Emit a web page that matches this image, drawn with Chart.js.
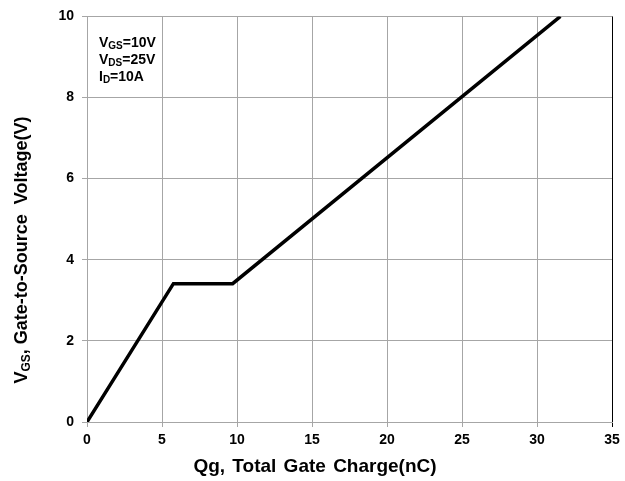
<!DOCTYPE html>
<html>
<head>
<meta charset="utf-8">
<script src="https://cdn.jsdelivr.net/npm/chart.js@4"></script>
<style>
html,body{margin:0;padding:0;background:#fff;}
canvas{display:block;}
</style>
</head>
<body>
<canvas id="c" width="625" height="481"></canvas>
<script>
// Data
const gateCharge = [0, 5.76, 9.71, 31.56];   // Qg (nC)
const gateVoltage = [0, 3.41, 3.41, 10];     // VGS (V)
const xTicks = [0, 5, 10, 15, 20, 25, 30, 35];
const yTicks = [0, 2, 4, 6, 8, 10];
const conditions = [
  {main: 'V', sub: 'GS', rest: '=10V'},
  {main: 'V', sub: 'DS', rest: '=25V'},
  {main: 'I', sub: 'D', rest: '=10A'}
];
const xTitle = 'Qg, Total Gate Charge(nC)';
const yTitleParts = [{t: 'V', s: false}, {t: 'GS', s: true}, {t: ', Gate-to-Source  Voltage(V)', s: false}];

const FONT = '"Liberation Sans", Arial, sans-serif';

const textPlugin = {
  id: 'texts',
  afterDraw(chart) {
    const ctx = chart.ctx;
    ctx.save();
    ctx.fillStyle = '#000';
    ctx.textBaseline = 'alphabetic';
    // conditions box
    let y0 = 47;
    conditions.forEach((c, i) => {
      let x = 99;
      const y = y0 + i * 17;
      ctx.font = 'bold 14px ' + FONT;
      ctx.fillText(c.main, x, y);
      x += ctx.measureText(c.main).width;
      ctx.font = 'bold 10px ' + FONT;
      ctx.fillText(c.sub, x, y + 2);
      x += ctx.measureText(c.sub).width;
      ctx.font = 'bold 14px ' + FONT;
      ctx.fillText(c.rest, x, y);
    });
    // x title
    ctx.font = 'bold 19px ' + FONT;
    ctx.textAlign = 'center';
    try { ctx.wordSpacing = '2px'; } catch (e) {}
    ctx.fillText(xTitle, 315, 472);
    try { ctx.wordSpacing = '0px'; } catch (e) {}
    // y title (rotated, with subscript)
    ctx.textAlign = 'left';
    const fMain = 'bold 18px ' + FONT, fSub = 'bold 12px ' + FONT;
    let total = 0;
    yTitleParts.forEach(p => { ctx.font = p.s ? fSub : fMain; total += ctx.measureText(p.t).width; });
    ctx.translate(27, 250);
    ctx.rotate(-Math.PI / 2);
    let x = -total / 2;
    yTitleParts.forEach(p => {
      ctx.font = p.s ? fSub : fMain;
      ctx.fillText(p.t, x, p.s ? 3 : 0);
      x += ctx.measureText(p.t).width;
    });
    ctx.restore();
  }
};

new Chart(document.getElementById('c'), {
  type: 'scatter',
  data: {
    datasets: [{
      data: gateCharge.map((q, i) => ({x: q, y: gateVoltage[i]})),
      showLine: true,
      borderColor: '#000',
      borderWidth: 3.5,
      pointRadius: 0,
      tension: 0,
      borderCapStyle: 'butt',
      borderJoinStyle: 'miter'
    }]
  },
  options: {
    responsive: false,
    animation: false,
    devicePixelRatio: 1,
    layout: {padding: {left: 0, right: 13, top: 15, bottom: 0}},
    plugins: {legend: {display: false}, tooltip: {enabled: false}},
    scales: {
      x: {
        type: 'linear', min: 0, max: 35,
        afterBuildTicks: s => { s.ticks = xTicks.map(v => ({value: v})); },
        afterFit: s => { s.height = 59; },
        grid: {
          color: c => (c.tick && c.tick.value === 35) ? '#000' : '#a6a6a6',
          lineWidth: 1, tickLength: 5, drawTicks: true
        },
        border: {color: '#a6a6a6', width: 1},
        ticks: {color: '#000', font: {family: FONT, size: 14, weight: 'bold'}, padding: 5, maxRotation: 0}
      },
      y: {
        type: 'linear', min: 0, max: 10,
        afterBuildTicks: s => { s.ticks = yTicks.map(v => ({value: v})); },
        afterFit: s => { s.width = 87; },
        grid: {color: '#a6a6a6', lineWidth: 1, tickLength: 5},
        border: {color: '#a6a6a6', width: 1},
        ticks: {color: '#000', font: {family: FONT, size: 14, weight: 'bold'}, padding: 8}
      }
    }
  },
  plugins: [textPlugin]
});
</script>
</body>
</html>
